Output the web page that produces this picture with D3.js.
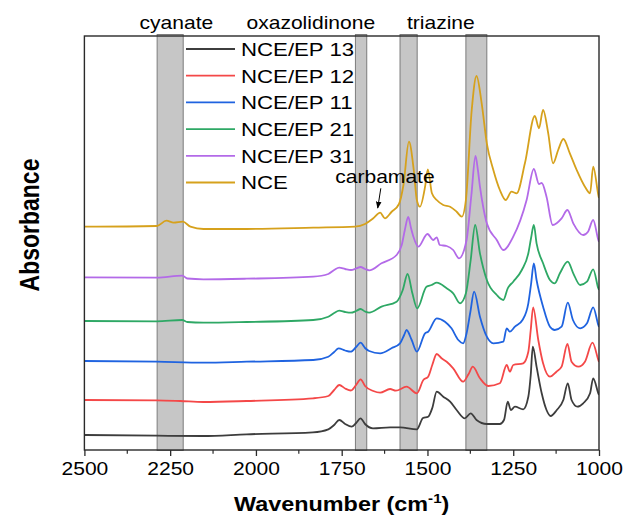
<!DOCTYPE html>
<html>
<head>
<meta charset="utf-8">
<script src="https://cdn.jsdelivr.net/npm/d3@7"></script>
<style>
  body { margin: 0; background: #fff; }
  svg { display: block; }
  text { font-family: "Liberation Sans", Arial, sans-serif; fill: #000; }
</style>
</head>
<body>
<svg id="chart" width="626" height="519"></svg>
<script>
// FTIR spectra, stacked with offsets: [wavenumber (cm-1), absorbance (a.u.)]
const seriesNames = ["NCE/EP 13", "NCE/EP 12", "NCE/EP 11", "NCE/EP 21", "NCE/EP 31", "NCE"];
const seriesColors = ["#3d3d3d", "#f44848", "#1f63e0", "#2ea865", "#b36ae8", "#d6a11c"];

const ep13 = [[2500,0.15],[2289,0.143],[2154,0.14],[2027,0.157],[1834,0.177],[1789,0.207],[1772,0.25],[1757,0.30],[1740,0.26],[1721,0.233],[1708,0.27],[1695,0.317],[1682,0.26],[1659,0.217],[1609,0.227],[1580,0.227],[1531,0.207],[1513,0.32],[1498,0.333],[1486,0.42],[1473,0.583],[1454,0.533],[1434,0.483],[1415,0.40],[1391,0.317],[1374,0.367],[1357,0.30],[1327,0.26],[1289,0.26],[1277,0.3],[1266,0.483],[1257,0.40],[1245,0.433],[1221,0.407],[1206,0.533],[1199,0.75],[1193,1.033],[1182,0.833],[1167,0.567],[1153,0.40],[1141,0.34],[1123,0.40],[1104,0.50],[1091,0.667],[1080,0.50],[1063,0.433],[1046,0.467],[1026,0.567],[1017,0.717],[1002,0.567],[1000,0.55]];

const ep12 = [[2500,0.50],[2289,0.497],[2221,0.49],[2153,0.48],[2027,0.49],[1833,0.517],[1789,0.54],[1772,0.6],[1757,0.65],[1740,0.615],[1723,0.595],[1708,0.65],[1695,0.707],[1682,0.64],[1658,0.59],[1638,0.573],[1609,0.61],[1592,0.593],[1561,0.633],[1531,0.567],[1512,0.70],[1498,0.733],[1486,0.85],[1473,0.96],[1459,0.917],[1444,0.883],[1425,0.817],[1396,0.683],[1380,0.76],[1368,0.833],[1347,0.717],[1323,0.64],[1289,0.667],[1269,0.85],[1260,0.783],[1250,0.85],[1221,0.867],[1206,0.983],[1199,1.2],[1192,1.427],[1177,1.10],[1163,0.867],[1143,0.733],[1124,0.783],[1109,0.833],[1092,1.06],[1080,0.883],[1060,0.833],[1041,0.883],[1019,1.073],[1002,0.90],[1000,0.88]];

const ep11 = [[2500,0.89],[2289,0.883],[2153,0.873],[2027,0.883],[1833,0.90],[1789,0.933],[1772,0.98],[1759,1.017],[1740,0.995],[1724,0.983],[1708,1.03],[1695,1.073],[1682,1.02],[1670,0.99],[1638,0.967],[1605,1.017],[1580,1.067],[1568,1.15],[1561,1.20],[1546,1.10],[1531,0.983],[1507,1.167],[1498,1.183],[1473,1.317],[1449,1.283],[1430,1.217],[1410,1.10],[1396,1.067],[1386,1.167],[1375,1.38],[1364,1.583],[1347,1.333],[1327,1.133],[1308,1.067],[1279,1.083],[1269,1.217],[1260,1.183],[1245,1.233],[1223,1.30],[1206,1.467],[1198,1.66],[1190,1.867],[1182,1.70],[1163,1.433],[1143,1.233],[1129,1.20],[1109,1.233],[1091,1.473],[1076,1.30],[1055,1.217],[1035,1.267],[1017,1.427],[1002,1.25],[1000,1.23]];

const ep21 = [[2500,1.29],[2289,1.287],[2215,1.30],[2200,1.28],[2153,1.273],[2027,1.28],[1833,1.30],[1789,1.333],[1772,1.37],[1757,1.393],[1740,1.38],[1723,1.373],[1708,1.39],[1695,1.41],[1682,1.385],[1670,1.373],[1634,1.433],[1590,1.483],[1572,1.6],[1558,1.76],[1544,1.567],[1530,1.417],[1503,1.633],[1488,1.65],[1473,1.673],[1444,1.617],[1425,1.567],[1405,1.467],[1388,1.567],[1374,1.9],[1361,2.25],[1347,1.967],[1327,1.70],[1298,1.55],[1279,1.50],[1266,1.617],[1250,1.683],[1225,1.80],[1206,1.967],[1198,2.12],[1190,2.25],[1182,2.067],[1163,1.867],[1143,1.70],[1129,1.667],[1114,1.767],[1091,1.883],[1075,1.767],[1055,1.65],[1035,1.683],[1017,1.807],[1002,1.617],[1000,1.6]];

const ep31 = [[2500,1.727],[2289,1.723],[2214,1.743],[2200,1.715],[2153,1.707],[2027,1.713],[1833,1.733],[1789,1.76],[1772,1.8],[1757,1.823],[1740,1.81],[1723,1.80],[1708,1.815],[1695,1.83],[1682,1.81],[1670,1.797],[1634,1.867],[1590,1.95],[1575,2.05],[1566,2.2],[1556,2.33],[1548,2.22],[1541,2.133],[1527,2.033],[1500,2.16],[1483,2.10],[1473,2.127],[1464,2.05],[1444,2.04],[1425,2.00],[1408,1.917],[1386,2.10],[1372,2.55],[1360,2.94],[1353,2.8],[1347,2.633],[1337,2.42],[1327,2.267],[1298,2.10],[1279,2.00],[1250,2.133],[1211,2.50],[1190,2.81],[1175,2.66],[1167,2.67],[1153,2.533],[1135,2.25],[1109,2.317],[1092,2.40],[1075,2.267],[1046,2.15],[1032,2.183],[1017,2.30],[1002,2.10],[1000,2.08]];

const nce = [[2500,2.233],[2289,2.24],[2261,2.293],[2240,2.273],[2213,2.283],[2191,2.233],[2153,2.21],[2027,2.21],[1833,2.223],[1711,2.233],[1682,2.26],[1658,2.317],[1638,2.373],[1624,2.317],[1605,2.38],[1583,2.46],[1570,2.65],[1554,3.083],[1540,2.80],[1531,2.50],[1522,2.433],[1507,2.633],[1499,2.807],[1487,2.567],[1473,2.50],[1454,2.45],[1434,2.433],[1415,2.383],[1400,2.333],[1388,2.50],[1371,3.40],[1357,3.74],[1342,3.467],[1327,3.067],[1308,2.80],[1289,2.60],[1272,2.50],[1255,2.583],[1240,2.567],[1216,2.867],[1187,3.34],[1175,3.217],[1163,3.40],[1148,3.167],[1134,2.867],[1119,3.00],[1104,3.11],[1085,2.967],[1065,2.80],[1041,2.633],[1026,2.567],[1017,2.833],[1001,2.533],[1000,2.52]];

const seriesData = [ep13, ep12, ep11, ep21, ep31, nce];

// Highlighted absorption regions [high, low] in cm-1 and their captions
const bands = [[2288, 2212], [1710, 1677], [1580, 1530], [1388, 1327]];
const bandCaptions = ["cyanate", "oxazolidinone", "triazine"];
const bandCaptionAt = [2232, 1840, 1461];

const xTicks = [2500, 2250, 2000, 1750, 1500, 1250, 1000];
const xMinorTicks = [2375, 2125, 1875, 1625, 1375, 1125];

// carbamate shoulder on the NCE trace: caption, arrow tail and arrow tip
const carbamateNote = { text: "carbamate", at: [1624, 2.667], tail: [1636, 2.617], tip: [1645, 2.42] };

// ---- layout ----
const plotL = 84.4, plotR = 599, plotT = 36, plotB = 450;
const stretch = 1.17; // horizontal text stretch

const svg = d3.select("#chart");
const x = d3.scaleLinear().domain([2500, 1000]).range([plotL, plotR]);
const y = d3.scaleLinear().domain([0, 4.14]).range([plotB, plotT]);

function stretchedText(g, px, py, str, size, anchor, weight) {
  return g.append("text")
    .attr("transform", `translate(${px},${py}) scale(${stretch},1)`)
    .attr("text-anchor", anchor || "start")
    .style("font-size", size + "px")
    .style("font-weight", weight || "normal")
    .text(str);
}

// shaded bands
svg.append("g").selectAll("rect").data(bands).join("rect")
  .attr("x", d => x(d[0]))
  .attr("width", d => x(d[1]) - x(d[0]))
  .attr("y", plotT - 1.5)
  .attr("height", plotB - plotT + 2)
  .attr("fill", "#c6c6c6")
  .attr("stroke", "#7c7c7c")
  .attr("stroke-width", 1);

// band captions above the frame
bandCaptions.forEach((t, i) => stretchedText(svg, x(bandCaptionAt[i]), 29, t, 18, "middle"));

// spectra
svg.append("clipPath").attr("id", "plotClip").append("rect")
  .attr("x", plotL).attr("y", plotT).attr("width", plotR - plotL).attr("height", plotB - plotT);

const line = d3.line().x(d => x(d[0])).y(d => y(d[1])).curve(d3.curveMonotoneX);
svg.append("g").attr("clip-path", "url(#plotClip)")
  .selectAll("path").data(seriesData).join("path")
  .attr("d", line)
  .attr("fill", "none")
  .attr("stroke", (d, i) => seriesColors[i])
  .attr("stroke-width", 1.8)
  .attr("stroke-linejoin", "round");

// frame
svg.append("rect")
  .attr("x", plotL).attr("y", plotT).attr("width", plotR - plotL).attr("height", plotB - plotT)
  .attr("fill", "none").attr("stroke", "#2a2a2a").attr("stroke-width", 1.4);

// bottom axis: major ticks with labels, minor ticks between
const axis = svg.append("g").attr("transform", `translate(0,${plotB})`)
  .call(d3.axisBottom(x).tickValues(xTicks).tickSize(6).tickFormat(d3.format("d")));
axis.select(".domain").remove();
axis.selectAll(".tick line").attr("stroke", "#2a2a2a").attr("stroke-width", 1.3);
axis.selectAll(".tick text")
  .attr("y", 25).attr("dy", null)
  .attr("transform", `scale(${stretch},1)`)
  .style("font-size", "18px")
  .attr("fill", "#000");
svg.append("g").selectAll("line").data(xMinorTicks).join("line")
  .attr("x1", d => x(d)).attr("x2", d => x(d))
  .attr("y1", plotB).attr("y2", plotB + 3.8)
  .attr("stroke", "#2a2a2a").attr("stroke-width", 1.2);

// axis titles
const xt = stretchedText(svg, (plotL + plotR) / 2, 511, "Wavenumber (cm", 20, "middle", "bold");
xt.append("tspan").attr("dy", -8).style("font-size", "13px").text("-1");
xt.append("tspan").attr("dy", 8).text(")");

svg.append("text")
  .attr("transform", `translate(39,225) rotate(-90) scale(1,${stretch})`)
  .attr("text-anchor", "middle")
  .style("font-size", "23px").style("font-weight", "bold")
  .text("Absorbance");

// legend
const legend = svg.append("g");
seriesNames.forEach((name, i) => {
  const ly = 49 + i * 26.7;
  legend.append("line").attr("x1", 186).attr("x2", 235).attr("y1", ly).attr("y2", ly)
    .attr("stroke", seriesColors[i]).attr("stroke-width", 1.8);
  stretchedText(legend, 241, ly + 6.8, name, 19, "start");
});

// carbamate annotation
stretchedText(svg, x(carbamateNote.at[0]), y(carbamateNote.at[1]), carbamateNote.text, 18, "middle");
svg.append("defs").append("marker").attr("id", "arrowHead")
  .attr("viewBox", "0 0 10 10").attr("refX", 9).attr("refY", 5)
  .attr("markerWidth", 7).attr("markerHeight", 7).attr("orient", "auto")
  .append("path").attr("d", "M0,1 L10,5 L0,9 Z").attr("fill", "#000");
svg.append("line")
  .attr("x1", x(carbamateNote.tail[0])).attr("y1", y(carbamateNote.tail[1]))
  .attr("x2", x(carbamateNote.tip[0])).attr("y2", y(carbamateNote.tip[1]))
  .attr("stroke", "#000").attr("stroke-width", 1)
  .attr("marker-end", "url(#arrowHead)");
</script>
</body>
</html>
